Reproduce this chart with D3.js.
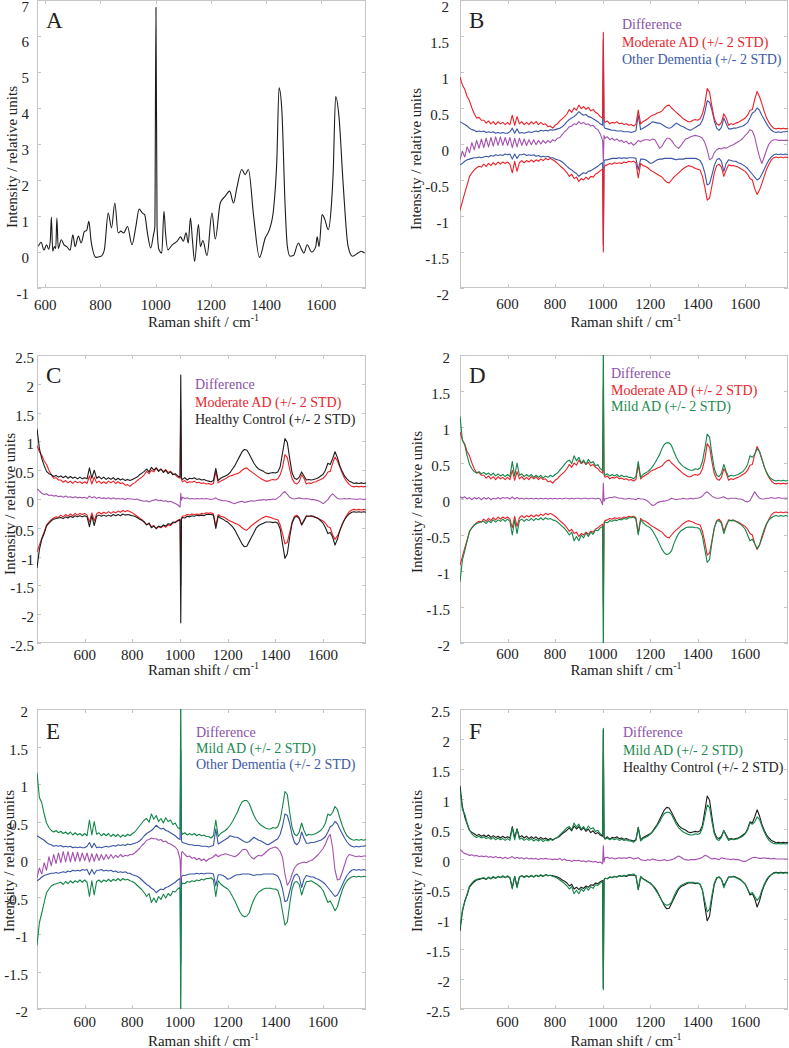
<!DOCTYPE html>
<html><head><meta charset="utf-8">
<script src="https://cdn.jsdelivr.net/npm/d3@7"></script>
<style>
body{margin:0;background:#fff}
svg{display:block}
</style>
</head><body>
<svg id="chart" width="789" height="1048"></svg>
<script>
// ---------- Panel A: mean spectrum ----------
const specAX = [575,585,595,605,612,618,622,627,633,638,642,647,658,668,678,690,700,708,720,730,742,750,758,766,784,802,814,828,840,852,864,874,884,898,914,928,940,952,960,970,982,992,997,1001,1005,1012,1022,1030,1036,1044,1060,1078,1090,1100,1110,1118,1126,1133,1141,1155,1162,1171,1186,1204,1216,1234,1252,1268,1282,1294,1312,1324,1336,1355,1376,1397,1412,1427,1439,1447,1457,1469,1477,1487,1499,1517,1527,1537,1549,1565,1580,1585,1592,1603,1613,1625,1637,1643,1652,1664,1679,1697,1713,1733,1745,1757];
const specAY = [0.16,0.27,0.05,0.2,0.08,0.3,0.97,0.02,0.15,0.1,0.94,0.1,0.34,0.2,0.15,0.05,0.48,0.15,0.44,0.25,0.57,0.6,0.85,0.3,-0.15,-0.12,0.06,1.08,0.67,1.36,0.53,0.58,0.53,0.71,0.2,0.7,1.19,1.08,1.04,0.53,0.11,0.48,0.7,6.8,0.7,0.06,-0.03,1.13,0.5,0.06,0.2,0.3,0.42,0.3,0.53,0.25,0.94,0.35,-0.26,0.76,0.15,0.32,-0.1,1.08,0.36,1.36,1.55,1.69,1.36,1.78,2.29,2.15,2.29,0.99,-0.15,0.39,0.62,1.18,2.56,4.56,3.95,1.27,0.16,-0.12,-0.1,0.25,0.1,-0.03,0.2,0.0,0.15,0.42,0.15,1.04,0.9,0.62,1.35,2.19,4.32,3.77,1.92,0.16,-0.12,-0.03,0.02,-0.03];

// ---------- Shared wavenumber grid for panels B-F ----------
const wn = [
400,410,420,430,440,450,460,470,480,490,
500,510,520,530,540,550,560,570,580,590,
600,610,620,630,640,650,660,670,680,690,
700,710,720,730,740,750,760,770,780,790,
800,810,820,830,840,850,860,870,880,890,
900,910,920,930,940,950,960,970,980,990,
1000,1003,1006,1010,1020,1030,1040,1050,1060,1070,
1080,1090,1100,1110,1120,1130,1140,1150,1160,1170,
1180,1190,1200,1210,1220,1230,1240,1250,1260,1270,
1280,1290,1300,1310,1320,1330,1340,1350,1360,1370,
1380,1390,1400,1410,1420,1430,1440,1450,1460,1470,
1480,1490,1500,1510,1520,1530,1540,1550,1560,1570,
1580,1590,1600,1610,1620,1630,1640,1650,1660,1670,
1680,1690,1700,1710,1720,1730,1740,1750,1760,1770,
1780];

// Moderate AD (+/- 2 STD)
const moderateUp = [
0.93,0.82,0.76,0.66,0.60,0.50,0.42,0.36,0.37,0.33,
0.33,0.29,0.32,0.28,0.31,0.27,0.31,0.28,0.30,0.27,
0.30,0.27,0.40,0.26,0.38,0.28,0.31,0.27,0.30,0.27,
0.31,0.28,0.31,0.27,0.30,0.27,0.28,0.24,0.25,0.22,
0.26,0.28,0.32,0.35,0.38,0.42,0.48,0.44,0.50,0.47,
0.54,0.49,0.52,0.48,0.51,0.46,0.48,0.44,0.42,0.38,
0.36,1.55,0.34,0.30,0.32,0.28,0.30,0.29,0.31,0.28,
0.29,0.27,0.28,0.26,0.27,0.25,0.27,0.47,0.28,0.31,
0.33,0.35,0.38,0.40,0.41,0.43,0.44,0.46,0.50,0.53,
0.54,0.50,0.47,0.44,0.41,0.38,0.35,0.33,0.31,0.31,
0.33,0.34,0.33,0.35,0.42,0.55,0.77,0.72,0.52,0.35,
0.28,0.26,0.30,0.42,0.36,0.26,0.28,0.27,0.29,0.30,
0.32,0.34,0.36,0.40,0.47,0.48,0.62,0.73,0.66,0.56,
0.45,0.36,0.30,0.25,0.22,0.21,0.22,0.21,0.22,0.21,
0.22];
const moderateLo = [
-0.92,-0.80,-0.68,-0.57,-0.45,-0.40,-0.36,-0.33,-0.31,-0.32,
-0.28,-0.31,-0.27,-0.30,-0.26,-0.29,-0.25,-0.28,-0.25,-0.27,
-0.25,-0.28,-0.40,-0.24,-0.38,-0.26,-0.23,-0.26,-0.23,-0.25,
-0.22,-0.25,-0.22,-0.24,-0.21,-0.23,-0.20,-0.22,-0.20,-0.22,
-0.24,-0.27,-0.30,-0.33,-0.36,-0.40,-0.45,-0.42,-0.48,-0.46,
-0.52,-0.48,-0.50,-0.46,-0.49,-0.45,-0.46,-0.42,-0.40,-0.37,
-0.35,-1.50,-0.33,-0.30,-0.29,-0.27,-0.28,-0.26,-0.27,-0.26,
-0.27,-0.25,-0.26,-0.24,-0.25,-0.24,-0.26,-0.47,-0.27,-0.30,
-0.31,-0.33,-0.36,-0.38,-0.40,-0.42,-0.44,-0.46,-0.50,-0.53,
-0.54,-0.50,-0.46,-0.43,-0.40,-0.37,-0.34,-0.32,-0.30,-0.31,
-0.32,-0.34,-0.35,-0.36,-0.45,-0.60,-0.78,-0.75,-0.58,-0.40,
-0.30,-0.28,-0.32,-0.45,-0.36,-0.29,-0.30,-0.30,-0.31,-0.32,
-0.34,-0.36,-0.38,-0.42,-0.48,-0.50,-0.62,-0.70,-0.64,-0.55,
-0.45,-0.35,-0.28,-0.22,-0.19,-0.18,-0.19,-0.18,-0.19,-0.18,
-0.19];

// Other Dementia (+/- 2 STD)
const otherUp = [
0.31,0.29,0.27,0.25,0.22,0.20,0.19,0.17,0.18,0.17,
0.18,0.16,0.17,0.16,0.17,0.15,0.16,0.15,0.16,0.15,
0.15,0.17,0.22,0.15,0.21,0.15,0.16,0.15,0.16,0.17,
0.16,0.17,0.18,0.17,0.19,0.18,0.19,0.18,0.20,0.19,
0.20,0.21,0.22,0.24,0.27,0.31,0.34,0.36,0.38,0.41,
0.45,0.42,0.40,0.41,0.38,0.37,0.35,0.33,0.31,0.28,
0.26,1.45,0.24,0.22,0.21,0.20,0.19,0.19,0.18,0.18,
0.18,0.17,0.17,0.17,0.16,0.17,0.18,0.40,0.20,0.22,
0.24,0.26,0.28,0.31,0.30,0.29,0.29,0.27,0.25,0.23,
0.22,0.23,0.26,0.29,0.27,0.25,0.24,0.22,0.20,0.19,
0.21,0.23,0.25,0.27,0.33,0.44,0.60,0.58,0.47,0.32,
0.22,0.19,0.23,0.36,0.28,0.21,0.21,0.22,0.22,0.23,
0.24,0.25,0.27,0.30,0.36,0.43,0.45,0.50,0.47,0.40,
0.34,0.28,0.23,0.19,0.17,0.16,0.17,0.16,0.17,0.17,
0.18];
const otherLo = [
-0.29,-0.27,-0.24,-0.22,-0.21,-0.20,-0.19,-0.19,-0.18,-0.19,
-0.18,-0.17,-0.18,-0.16,-0.17,-0.15,-0.16,-0.15,-0.16,-0.14,
-0.15,-0.14,-0.21,-0.14,-0.20,-0.15,-0.15,-0.14,-0.16,-0.15,
-0.16,-0.15,-0.17,-0.16,-0.18,-0.17,-0.18,-0.17,-0.19,-0.19,
-0.21,-0.22,-0.23,-0.25,-0.28,-0.31,-0.34,-0.36,-0.39,-0.41,
-0.45,-0.42,-0.40,-0.41,-0.38,-0.37,-0.35,-0.33,-0.31,-0.28,
-0.26,-1.40,-0.24,-0.22,-0.22,-0.21,-0.20,-0.20,-0.20,-0.19,
-0.20,-0.19,-0.20,-0.19,-0.19,-0.19,-0.20,-0.36,-0.21,-0.21,
-0.22,-0.24,-0.27,-0.26,-0.24,-0.22,-0.21,-0.21,-0.20,-0.20,
-0.20,-0.20,-0.21,-0.22,-0.21,-0.21,-0.21,-0.20,-0.20,-0.20,
-0.20,-0.20,-0.21,-0.23,-0.29,-0.40,-0.57,-0.55,-0.43,-0.30,
-0.22,-0.20,-0.24,-0.38,-0.27,-0.22,-0.23,-0.24,-0.24,-0.26,
-0.27,-0.29,-0.31,-0.34,-0.38,-0.42,-0.46,-0.50,-0.48,-0.42,
-0.35,-0.28,-0.22,-0.18,-0.15,-0.14,-0.15,-0.14,-0.15,-0.14,
-0.15];

// Healthy Control (+/- 2 STD)
const healthyUp = [
1.22,0.88,0.70,0.58,0.48,0.44,0.42,0.39,0.41,0.38,
0.40,0.37,0.40,0.36,0.39,0.36,0.38,0.35,0.38,0.35,
0.37,0.35,0.54,0.36,0.50,0.36,0.39,0.35,0.38,0.34,
0.37,0.34,0.37,0.33,0.36,0.33,0.35,0.32,0.34,0.32,
0.34,0.36,0.38,0.42,0.45,0.48,0.52,0.47,0.55,0.50,
0.54,0.48,0.52,0.46,0.50,0.44,0.47,0.42,0.44,0.40,
0.38,2.15,0.36,0.34,0.37,0.33,0.36,0.35,0.37,0.34,
0.35,0.33,0.34,0.32,0.31,0.30,0.32,0.53,0.32,0.36,
0.38,0.40,0.42,0.46,0.52,0.58,0.66,0.74,0.82,0.86,
0.85,0.78,0.70,0.62,0.56,0.52,0.50,0.48,0.45,0.44,
0.45,0.46,0.45,0.47,0.56,0.80,1.05,0.98,0.70,0.45,
0.36,0.34,0.38,0.47,0.40,0.33,0.34,0.33,0.34,0.35,
0.37,0.40,0.43,0.50,0.62,0.60,0.70,0.82,0.72,0.58,
0.48,0.40,0.35,0.31,0.29,0.27,0.28,0.27,0.28,0.27,
0.28];
const healthyLo = [
-1.20,-0.88,-0.70,-0.60,-0.47,-0.42,-0.38,-0.35,-0.34,-0.33,
-0.32,-0.34,-0.31,-0.33,-0.30,-0.32,-0.29,-0.31,-0.29,-0.31,
-0.29,-0.31,-0.48,-0.29,-0.46,-0.30,-0.28,-0.30,-0.28,-0.30,
-0.28,-0.30,-0.27,-0.29,-0.27,-0.29,-0.26,-0.28,-0.27,-0.28,
-0.29,-0.30,-0.32,-0.35,-0.37,-0.40,-0.45,-0.42,-0.50,-0.47,
-0.51,-0.47,-0.49,-0.45,-0.47,-0.43,-0.44,-0.40,-0.41,-0.38,
-0.36,-2.15,-0.35,-0.32,-0.33,-0.30,-0.31,-0.29,-0.30,-0.28,
-0.29,-0.28,-0.29,-0.27,-0.27,-0.27,-0.28,-0.51,-0.30,-0.33,
-0.35,-0.38,-0.40,-0.44,-0.48,-0.54,-0.62,-0.70,-0.78,-0.83,
-0.82,-0.74,-0.66,-0.58,-0.50,-0.46,-0.44,-0.42,-0.40,-0.40,
-0.40,-0.41,-0.40,-0.42,-0.52,-0.78,-1.03,-0.95,-0.66,-0.42,
-0.32,-0.30,-0.34,-0.45,-0.38,-0.30,-0.30,-0.29,-0.30,-0.32,
-0.34,-0.38,-0.42,-0.50,-0.60,-0.58,-0.66,-0.80,-0.70,-0.55,
-0.44,-0.36,-0.30,-0.26,-0.23,-0.22,-0.23,-0.22,-0.23,-0.22,
-0.23];

// Mild AD (+/- 2 STD)
const mildUp = [
1.15,0.82,0.75,0.60,0.48,0.42,0.38,0.36,0.38,0.35,
0.37,0.34,0.36,0.33,0.36,0.32,0.35,0.32,0.34,0.31,
0.34,0.31,0.52,0.32,0.50,0.33,0.35,0.31,0.34,0.31,
0.34,0.30,0.33,0.30,0.33,0.29,0.32,0.30,0.33,0.31,
0.34,0.36,0.40,0.44,0.48,0.52,0.54,0.49,0.60,0.53,
0.58,0.50,0.54,0.48,0.55,0.50,0.52,0.46,0.48,0.42,
0.40,2.18,0.36,0.33,0.35,0.32,0.34,0.32,0.34,0.31,
0.33,0.31,0.32,0.30,0.30,0.28,0.31,0.52,0.30,0.34,
0.36,0.38,0.41,0.45,0.50,0.56,0.62,0.70,0.76,0.78,
0.78,0.74,0.66,0.58,0.52,0.48,0.45,0.43,0.41,0.40,
0.40,0.42,0.41,0.43,0.52,0.70,0.90,0.86,0.62,0.42,
0.33,0.31,0.36,0.48,0.38,0.31,0.33,0.32,0.33,0.34,
0.36,0.38,0.42,0.48,0.60,0.58,0.62,0.70,0.66,0.55,
0.45,0.37,0.31,0.28,0.26,0.25,0.26,0.25,0.26,0.25,
0.26];
const mildLo = [
-1.15,-0.85,-0.72,-0.58,-0.45,-0.40,-0.36,-0.34,-0.33,-0.32,
-0.31,-0.34,-0.30,-0.33,-0.29,-0.32,-0.29,-0.31,-0.28,-0.31,
-0.28,-0.31,-0.50,-0.29,-0.48,-0.30,-0.28,-0.31,-0.28,-0.30,
-0.27,-0.30,-0.27,-0.29,-0.26,-0.29,-0.26,-0.28,-0.27,-0.29,
-0.30,-0.32,-0.35,-0.38,-0.41,-0.45,-0.50,-0.46,-0.58,-0.52,
-0.58,-0.50,-0.54,-0.47,-0.52,-0.46,-0.49,-0.43,-0.44,-0.40,
-0.38,-2.18,-0.35,-0.32,-0.33,-0.30,-0.31,-0.29,-0.30,-0.28,
-0.29,-0.27,-0.28,-0.26,-0.26,-0.25,-0.28,-0.50,-0.29,-0.33,
-0.36,-0.38,-0.40,-0.44,-0.50,-0.56,-0.63,-0.70,-0.75,-0.77,
-0.76,-0.72,-0.62,-0.54,-0.48,-0.44,-0.42,-0.40,-0.39,-0.39,
-0.39,-0.40,-0.40,-0.42,-0.52,-0.70,-0.88,-0.84,-0.60,-0.40,
-0.31,-0.30,-0.34,-0.48,-0.38,-0.30,-0.30,-0.29,-0.31,-0.33,
-0.35,-0.38,-0.42,-0.50,-0.58,-0.56,-0.62,-0.69,-0.64,-0.52,
-0.42,-0.34,-0.29,-0.26,-0.24,-0.23,-0.24,-0.23,-0.24,-0.23,
-0.24];

// Differences
const diffB = [
-0.22,-0.10,-0.18,-0.04,-0.12,0.02,-0.08,0.05,-0.06,0.07,
-0.05,0.08,-0.04,0.09,-0.03,0.10,-0.02,0.10,-0.02,0.09,
-0.02,0.09,-0.05,0.08,-0.04,0.08,-0.02,0.07,-0.02,0.06,
-0.01,0.06,-0.01,0.05,0.00,0.05,0.01,0.05,0.02,0.06,
0.04,0.08,0.09,0.13,0.17,0.20,0.24,0.25,0.28,0.27,
0.31,0.28,0.30,0.27,0.28,0.25,0.26,0.22,0.20,0.14,
0.05,-0.25,0.12,0.08,0.10,0.06,0.08,0.05,0.07,0.04,
0.05,0.02,0.04,0.00,0.02,-0.02,0.01,0.05,0.03,0.05,
0.06,0.06,0.05,0.07,0.06,0.00,-0.06,-0.03,0.03,0.08,
0.08,0.05,0.00,-0.04,-0.06,-0.02,0.03,0.07,0.08,0.10,
0.11,0.12,0.11,0.10,0.08,0.02,-0.08,-0.22,-0.20,-0.12,
-0.08,-0.06,-0.07,-0.05,-0.06,-0.04,-0.02,-0.01,0.01,0.03,
0.05,0.08,0.12,0.15,0.20,0.18,0.10,-0.05,-0.18,-0.27,
-0.18,-0.08,0.00,0.04,0.06,0.06,0.05,0.05,0.05,0.05,
0.05];
const diffC = [
0.18,0.14,0.10,0.08,0.09,0.06,0.07,0.05,0.06,0.04,
0.05,0.03,0.05,0.03,0.04,0.02,0.04,0.02,0.03,0.02,
0.03,0.01,0.05,0.02,0.04,0.01,0.03,0.01,0.02,0.01,
0.02,0.00,0.02,0.00,0.01,0.00,0.01,-0.01,0.01,0.00,
0.00,-0.01,0.00,-0.02,-0.03,-0.04,-0.03,-0.05,-0.03,-0.02,
-0.01,-0.03,-0.02,-0.04,-0.03,-0.05,-0.04,-0.06,-0.08,-0.10,
-0.14,0.10,-0.02,0.03,0.01,0.02,0.00,0.01,0.00,0.01,
0.00,0.01,0.00,0.01,0.00,-0.01,0.00,0.02,-0.01,-0.02,
-0.03,-0.03,-0.04,-0.05,-0.07,-0.08,-0.06,-0.05,-0.04,-0.06,
-0.05,-0.04,-0.03,-0.04,-0.03,-0.02,-0.02,-0.01,-0.02,-0.01,
-0.01,0.00,-0.01,0.02,0.05,0.10,0.13,0.08,0.03,0.01,
0.00,0.01,0.02,0.01,0.00,0.01,0.00,-0.01,-0.01,-0.02,
-0.03,-0.05,-0.08,-0.05,-0.01,0.05,0.09,0.05,0.01,0.00,
0.00,0.01,0.00,0.01,0.00,0.00,-0.01,0.00,0.00,-0.01,
0.00];
const diffD = [
0.03,0.01,0.03,0.00,0.02,-0.01,0.02,0.00,0.02,-0.01,
0.02,0.00,0.02,-0.01,0.01,0.00,0.02,0.00,0.02,0.01,
0.02,0.00,0.03,0.00,0.02,0.00,0.01,0.00,0.01,0.00,
0.01,0.00,0.01,0.00,0.01,0.00,0.01,0.00,0.01,0.00,
0.01,0.00,0.01,0.00,0.01,0.01,0.00,0.01,0.00,0.01,
0.01,0.00,0.01,0.01,0.00,0.01,0.01,0.00,0.01,0.00,
-0.08,0.22,-0.03,0.00,0.01,0.02,0.02,0.03,0.02,0.01,
0.01,0.00,0.00,0.01,0.00,0.00,-0.01,0.01,0.00,0.00,
-0.01,-0.03,-0.06,-0.09,-0.08,-0.05,-0.04,-0.03,-0.03,-0.02,
-0.01,0.01,0.00,-0.01,0.00,0.00,0.01,0.00,0.00,0.01,
0.00,0.01,0.01,0.02,0.04,0.08,0.10,0.07,0.04,0.02,
0.01,0.01,0.02,0.03,0.01,0.00,0.01,0.01,0.01,0.00,
0.00,-0.01,-0.03,-0.04,-0.02,0.04,0.10,0.05,0.01,0.00,
0.00,0.01,0.01,0.02,0.01,0.01,0.02,0.01,0.01,0.01,
0.01];
const diffE = [
-0.25,-0.12,-0.20,-0.05,-0.15,0.03,-0.09,0.06,-0.06,0.08,
-0.05,0.10,-0.04,0.10,-0.04,0.09,-0.03,0.09,-0.03,0.08,
-0.02,0.08,-0.04,0.07,-0.03,0.07,-0.02,0.06,-0.01,0.06,
0.00,0.06,0.01,0.05,0.02,0.06,0.03,0.05,0.04,0.06,
0.06,0.08,0.11,0.14,0.18,0.21,0.25,0.26,0.28,0.27,
0.27,0.25,0.26,0.23,0.24,0.21,0.20,0.18,0.16,0.12,
0.00,-0.28,0.08,0.10,0.06,0.03,0.04,0.01,0.02,-0.01,
0.01,-0.02,0.00,-0.03,0.00,0.01,0.03,0.06,0.03,0.05,
0.06,0.07,0.06,0.05,0.04,0.03,0.05,0.08,0.12,0.13,
0.12,0.06,0.02,0.00,0.03,0.05,0.04,0.06,0.09,0.12,
0.14,0.15,0.16,0.14,0.10,0.02,-0.20,-0.35,-0.30,-0.20,
-0.12,-0.08,-0.06,-0.05,-0.04,-0.05,-0.03,-0.02,0.00,0.03,
0.06,0.10,0.14,0.20,0.28,0.33,0.15,-0.15,-0.28,-0.27,
-0.18,-0.08,0.02,0.06,0.05,0.04,0.03,0.04,0.03,0.04,
0.04];
const diffF = [
0.16,0.12,0.09,0.08,0.06,0.07,0.05,0.06,0.04,0.05,
0.04,0.05,0.03,0.04,0.02,0.04,0.02,0.03,0.01,0.03,
0.01,0.02,0.04,0.01,0.03,0.01,0.02,0.00,0.02,0.00,
0.01,0.00,0.01,-0.01,0.01,0.00,0.01,0.00,0.00,-0.01,
0.00,-0.01,0.01,-0.02,0.00,-0.03,-0.02,-0.04,-0.02,-0.03,
-0.02,-0.04,-0.03,-0.05,-0.03,-0.04,-0.05,-0.04,-0.06,-0.05,
-0.08,0.22,-0.05,0.02,0.03,0.01,0.02,0.00,0.01,0.02,
0.01,0.02,0.01,0.03,0.02,0.00,0.01,0.02,-0.01,-0.02,
-0.03,-0.01,-0.02,0.00,-0.01,-0.02,-0.03,-0.02,-0.01,-0.03,
-0.02,-0.01,0.00,0.03,0.05,0.03,0.00,-0.01,-0.02,-0.01,
-0.01,-0.01,0.00,0.01,0.03,0.06,0.05,0.02,0.00,0.01,
0.00,-0.01,0.02,0.01,0.00,0.00,-0.01,0.00,-0.01,-0.01,
-0.02,-0.04,-0.04,-0.02,0.00,0.02,0.03,0.02,0.01,0.01,
0.02,0.01,0.01,0.00,0.01,0.00,0.00,0.00,0.00,0.00,
0.00];

// Tick values
const xTicksSpec = [600,800,1000,1200,1400,1600];
const yTicksA = [-1,0,1,2,3,4,5,6,7];
const yTicks2 = [-2,-1.5,-1,-0.5,0,0.5,1,1.5,2];
const yTicks25 = [-2.5,-2,-1.5,-1,-0.5,0,0.5,1,1.5,2,2.5];

// Labels
const lblDiff = "Difference";
const lblMod = "Moderate AD (+/- 2 STD)";
const lblOther = "Other Dementia (+/- 2 STD)";
const lblHealthy = "Healthy Control (+/- 2 STD)";
const lblMild = "Mild AD (+/- 2 STD)";

// ---------- Styles ----------
const FONT = "'Liberation Serif', 'Nimbus Roman', 'Nimbus Roman No9 L', 'Times New Roman', Times, FreeSerif, 'DejaVu Serif', 'Noto Serif', Tinos, serif";
const RED = "#ec2027", BLUE = "#3b55a5", PURPLE = "#a452ae", GREEN = "#138549", BLACK = "#1c1c1c";
const T_PURPLE = "#8a52a8", T_RED = "#e8262d", T_BLUE = "#3c5aa6", T_GREEN = "#1b8a50", T_BLACK = "#222";

const svg = d3.select("#chart");

const panels = [
 {key:"A", box:[37,366,0,288], xDom:[570,1762], yDom:[-1,7], yTicks:yTicksA, yLabX:29, yLabDy:11, xLabY:310, yTitle:[12,157], xTitleY:327, letter:[46,28],
  legend:null,
  lines:[{x:specAX,y:specAY,c:BLACK,curve:d3.curveMonotoneX}]},
 {key:"B", box:[460,788,0,288], xDom:[400,1780], yDom:[-2,2], yTicks:yTicks2, yLabX:449, yLabDy:12, xLabY:309, yTitle:[416,159], xTitleY:327, letter:[469,28],
  legend:{x:622,y:29,dy:17.5,items:[[lblDiff,T_PURPLE],[lblMod,T_RED],[lblOther,T_BLUE]]},
  lines:[{x:wn,y:otherUp,c:BLUE},{x:wn,y:otherLo,c:BLUE},{x:wn,y:moderateUp,c:RED},{x:wn,y:moderateLo,c:RED},{x:wn,y:diffB,c:PURPLE}]},
 {key:"C", box:[37,366,355,643], xDom:[400,1780], yDom:[-2.5,2.5], yTicks:yTicks25, yLabX:34, yLabDy:8, xLabY:660, yTitle:[10,504], xTitleY:675, letter:[46,383],
  legend:{x:195,y:389,dy:17.5,items:[[lblDiff,T_PURPLE],[lblMod,T_RED],[lblHealthy,T_BLACK]]},
  lines:[{x:wn,y:moderateUp,c:RED},{x:wn,y:moderateLo,c:RED},{x:wn,y:healthyUp,c:BLACK},{x:wn,y:healthyLo,c:BLACK},{x:wn,y:diffC,c:PURPLE}]},
 {key:"D", box:[460,788,355,643], xDom:[400,1780], yDom:[-2,2], yTicks:yTicks2, yLabX:450, yLabDy:8, xLabY:659, yTitle:[417,502], xTitleY:675, letter:[469,383],
  legend:{x:611,y:378,dy:16.5,items:[[lblDiff,T_PURPLE],[lblMod,T_RED],[lblMild,T_GREEN]]},
  lines:[{x:wn,y:moderateUp,c:RED},{x:wn,y:moderateLo,c:RED},{x:wn,y:mildUp,c:GREEN},{x:wn,y:mildLo,c:GREEN},{x:wn,y:diffD,c:PURPLE}]},
 {key:"E", box:[37,366,709,1009], xDom:[400,1780], yDom:[-2,2], yTicks:yTicks2, yLabX:28, yLabDy:8, xLabY:1027, yTitle:[9,861], xTitleY:1046, letter:[46,739],
  legend:{x:196,y:737,dy:16,items:[[lblDiff,T_PURPLE],[lblMild,T_GREEN],[lblOther,T_BLUE]]},
  lines:[{x:wn,y:otherUp,c:BLUE},{x:wn,y:otherLo,c:BLUE},{x:wn,y:mildUp,c:GREEN},{x:wn,y:mildLo,c:GREEN},{x:wn,y:diffE,c:PURPLE}]},
 {key:"F", box:[460,788,709,1009], xDom:[400,1780], yDom:[-2.5,2.5], yTicks:yTicks25, yLabX:450, yLabDy:8, xLabY:1027, yTitle:[417,861], xTitleY:1046, letter:[469,739],
  legend:{x:623,y:737,dy:17.5,items:[[lblDiff,T_PURPLE],[lblMild,T_GREEN],[lblHealthy,T_BLACK]]},
  lines:[{x:wn,y:healthyUp,c:BLACK},{x:wn,y:healthyLo,c:BLACK},{x:wn,y:mildUp,c:GREEN},{x:wn,y:mildLo,c:GREEN},{x:wn,y:diffF,c:PURPLE}]}
];

const defs = svg.append("defs");
const FRAME = "#c6c6c6";

function txt(sel){ return sel.style("font-family",FONT); }

panels.forEach(p => {
  const [x0,x1,y0,y1] = p.box;
  const xs = d3.scaleLinear().domain(p.xDom).range([x0,x1]);
  const ys = d3.scaleLinear().domain(p.yDom).range([y1,y0]);
  const g = svg.append("g").attr("class","panel-"+p.key);

  defs.append("clipPath").attr("id","clip"+p.key)
    .append("rect").attr("x",x0).attr("y",y0).attr("width",x1-x0).attr("height",y1-y0);

  g.append("rect").attr("x",x0+0.5).attr("y",y0+0.5).attr("width",x1-x0-1).attr("height",y1-y0-1)
    .attr("fill","none").attr("stroke",FRAME).attr("stroke-width",1);

  const tl = 4;
  p.yTicks.forEach(v => {
    const y = Math.round(ys(v))+0.5;
    g.append("line").attr("x1",x0).attr("x2",x0+tl).attr("y1",y).attr("y2",y).attr("stroke",FRAME);
    g.append("line").attr("x1",x1-tl).attr("x2",x1).attr("y1",y).attr("y2",y).attr("stroke",FRAME);
  });
  xTicksSpec.forEach(v => {
    const x = Math.round(xs(v))+0.5;
    g.append("line").attr("x1",x).attr("x2",x).attr("y1",y1).attr("y2",y1-tl).attr("stroke",FRAME);
    g.append("line").attr("x1",x).attr("x2",x).attr("y1",y0).attr("y2",y0+tl).attr("stroke",FRAME);
  });

  txt(g.selectAll("text.yl").data(p.yTicks).enter().append("text").attr("class","yl"))
    .attr("x",p.yLabX).attr("y",d => Math.max(ys(d)+p.yLabDy, 12))
    .attr("text-anchor","end").attr("font-size",15).attr("fill","#222").text(d => String(d));
  txt(g.selectAll("text.xl").data(xTicksSpec).enter().append("text").attr("class","xl"))
    .attr("x",d => xs(d)).attr("y",p.xLabY)
    .attr("text-anchor","middle").attr("font-size",15).attr("fill","#222").text(d => String(d));

  const xt = txt(g.append("text")).attr("x",(x0+x1)/2+2).attr("y",p.xTitleY).attr("text-anchor","middle").attr("font-size",15).attr("fill","#222");
  xt.append("tspan").text("Raman shift / cm");
  xt.append("tspan").attr("font-size",10).attr("dy",-6).text("-1");
  txt(g.append("text")).attr("transform",`translate(${p.yTitle[0]},${p.yTitle[1]}) rotate(-90)`)
    .attr("dy","0.35em").attr("text-anchor","middle").attr("font-size",15).attr("fill","#222")
    .text("Intensity / relative units");

  const lg = g.append("g").attr("clip-path",`url(#clip${p.key})`);
  p.lines.forEach(s => {
    const pts = s.x.map((xv,i) => [xv, s.y[i]]);
    const line = d3.line().x(d => xs(d[0])).y(d => ys(d[1])).curve(s.curve || d3.curveLinear);
    lg.append("path").attr("d",line(pts)).attr("fill","none").attr("stroke",s.c)
      .attr("stroke-width",1.1).attr("stroke-linejoin","round");
  });

  txt(g.append("text")).attr("x",p.letter[0]).attr("y",p.letter[1]).attr("font-size",23).attr("fill","#222").text(p.key);

  if (p.legend) {
    p.legend.items.forEach((it,i) => {
      txt(g.append("text")).attr("x",p.legend.x).attr("y",p.legend.y + i*p.legend.dy)
        .attr("font-size",14).attr("fill",it[1]).text(it[0]);
    });
  }
});
</script>
</body></html>
